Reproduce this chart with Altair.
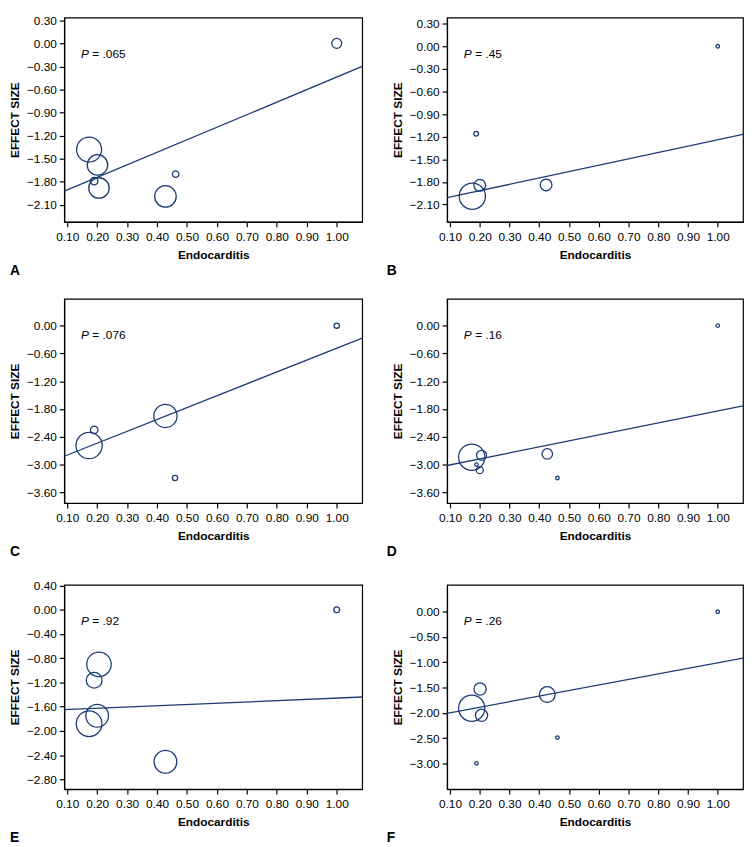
import math
import altair as alt
import pandas as pd

NAVY = "#1d3b73"
FONT = "Liberation Sans"
X_DOMAIN = [0.09, 1.085]
X_TICKS = [0.10, 0.20, 0.30, 0.40, 0.50, 0.60, 0.70, 0.80, 0.90, 1.00]

# Panel A
a_x = [0.173, 0.201, 0.190, 0.206, 0.428, 0.462, 1.000]
a_y = [-1.38, -1.58, -1.79, -1.88, -1.99, -1.70, 0.00]
a_r = [14.3, 11.7, 4.3, 11.7, 12.3, 3.7, 5.7]
a_fit = [-1.92, -0.30]   # fitted value at left / right end of x range
a_ydom = [-2.32, 0.335]
a_yticks = [0.30, 0.00, -0.30, -0.60, -0.90, -1.20, -1.50, -1.80, -2.10]
a_p = "= .065"

# Panel B
b_x = [0.175, 0.200, 0.188, 0.423, 1.000]
b_y = [-1.99, -1.845, -1.16, -1.84, 0.00]
b_r = [15.0, 6.7, 2.7, 6.7, 2.0]
b_fit = [-2.01, -1.17]
b_ydom = [-2.33, 0.38]
b_yticks = [0.30, 0.00, -0.30, -0.60, -0.90, -1.20, -1.50, -1.80, -2.10]
b_p = "= .45"

# Panel C
c_x = [0.173, 0.190, 0.428, 0.460, 1.000]
c_y = [-2.59, -2.25, -1.95, -3.29, 0.00]
c_r = [15.0, 4.3, 13.3, 3.0, 3.0]
c_fit = [-2.82, -0.27]
c_ydom = [-3.83, 0.58]
c_yticks = [0.00, -0.60, -1.20, -1.80, -2.40, -3.00, -3.60]
c_p = "= .076"

# Panel D
d_x = [0.173, 0.206, 0.189, 0.200, 0.427, 0.461, 1.000]
d_y = [-2.84, -2.80, -3.00, -3.12, -2.77, -3.29, 0.00]
d_r = [15.0, 5.7, 2.0, 4.0, 6.0, 2.0, 2.0]
d_fit = [-3.02, -1.73]
d_ydom = [-3.83, 0.58]
d_yticks = [0.00, -0.60, -1.20, -1.80, -2.40, -3.00, -3.60]
d_p = "= .16"

# Panel E
e_x = [0.206, 0.190, 0.200, 0.173, 0.428, 1.000]
e_y = [-0.90, -1.165, -1.75, -1.88, -2.51, 0.00]
e_r = [14.0, 9.0, 13.0, 14.7, 13.0, 3.3]
e_fit = [-1.65, -1.44]
e_ydom = [-2.96, 0.41]
e_yticks = [0.40, 0.00, -0.40, -0.80, -1.20, -1.60, -2.00, -2.40, -2.80]
e_p = "= .92"

# Panel F
f_x = [0.173, 0.201, 0.206, 0.189, 0.427, 0.461, 1.000]
f_y = [-1.91, -1.53, -2.05, -3.00, -1.64, -2.49, 0.00]
f_r = [15.0, 7.0, 7.0, 2.0, 9.0, 2.0, 2.0]
f_fit = [-2.01, -0.92]
f_ydom = [-3.51, 0.53]
f_yticks = [0.00, -0.50, -1.00, -1.50, -2.00, -2.50, -3.00]
f_p = "= .26"

PANEL_H = 207


def panel(letter, xs, ys, rs, fit, ydom, yticks, ptxt, width, letter_dx):
    pts = pd.DataFrame({"x": xs, "y": ys, "area": [math.pi * r * r for r in rs]})
    fit_df = pd.DataFrame({"x": X_DOMAIN, "y": fit})
    lab = pd.DataFrame({"p": ["P"], "rest": [ptxt], "letter": [letter]})

    xenc = alt.X(
        "x:Q",
        scale=alt.Scale(domain=X_DOMAIN, nice=False, zero=False),
        axis=alt.Axis(values=X_TICKS, format=".2f", title="Endocarditis", labelFlush=False),
    )
    yenc = alt.Y(
        "y:Q",
        scale=alt.Scale(domain=ydom, nice=False, zero=False),
        axis=alt.Axis(values=yticks, format=".2f", title="EFFECT SIZE"),
    )

    line = alt.Chart(fit_df).mark_line(color=NAVY, strokeWidth=1.3, clip=True).encode(x=xenc, y=yenc)
    circles = alt.Chart(pts).mark_point(
        shape="circle", filled=False, color=NAVY, strokeWidth=1.3, opacity=1
    ).encode(x=xenc, y=yenc, size=alt.Size("area:Q", scale=None, legend=None))
    p1 = alt.Chart(lab).mark_text(
        align="left", baseline="middle", fontStyle="italic", fontSize=12, font=FONT, color="black"
    ).encode(x=alt.value(17), y=alt.value(37), text="p:N")
    p2 = alt.Chart(lab).mark_text(
        align="left", baseline="middle", fontSize=12, font=FONT, color="black"
    ).encode(x=alt.value(28.5), y=alt.value(37), text="rest:N")
    tag = alt.Chart(lab).mark_text(
        align="left", baseline="middle", fontSize=14, fontWeight="bold", font=FONT, color="black"
    ).encode(x=alt.value(letter_dx), y=alt.value(PANEL_H + 50), text="letter:N")

    return alt.layer(line, circles, p1, p2, tag).properties(width=width, height=PANEL_H)


A = panel("A", a_x, a_y, a_r, a_fit, a_ydom, a_yticks, a_p, 302, -55)
B = panel("B", b_x, b_y, b_r, b_fit, b_ydom, b_yticks, b_p, 300, -61)
C = panel("C", c_x, c_y, c_r, c_fit, c_ydom, c_yticks, c_p, 302, -55)
D = panel("D", d_x, d_y, d_r, d_fit, d_ydom, d_yticks, d_p, 300, -61)
E = panel("E", e_x, e_y, e_r, e_fit, e_ydom, e_yticks, e_p, 302, -55)
F = panel("F", f_x, f_y, f_r, f_fit, f_ydom, f_yticks, f_p, 300, -61)

chart = alt.vconcat(
    alt.hconcat(A, B, spacing=23),
    alt.hconcat(C, D, spacing=23),
    alt.hconcat(E, F, spacing=23),
    spacing=19,
).properties(padding=0).configure(font=FONT, padding=0).configure_view(
    stroke="black", strokeWidth=1.2
).configure_axis(
    labelFont=FONT, titleFont=FONT, labelFontSize=12, titleFontSize=12,
    titleFontWeight="bold", labelColor="black", titleColor="black",
    domainColor="black", tickColor="black", tickSize=5, grid=False,
    labelPadding=3, domainWidth=1.2, tickWidth=1.2,
).configure_axisY(
    minExtent=40, maxExtent=40, titlePadding=3
).configure_axisX(
    labelPadding=5, titlePadding=7
)

chart.save("out.html", embed_options={"renderer": "svg", "actions": False})
